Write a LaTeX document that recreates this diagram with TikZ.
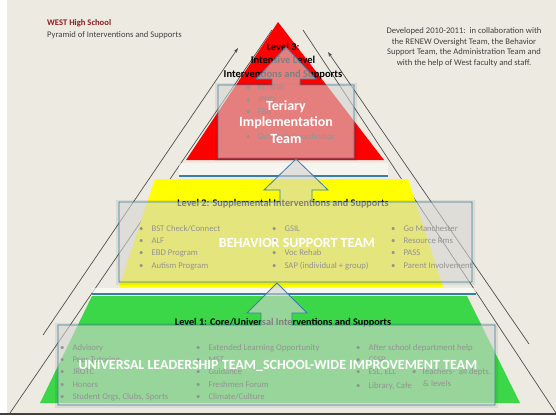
\documentclass[tikz,border=0pt]{standalone}
\usepackage{fontspec}
\setmainfont{Carlito}
\usetikzlibrary{arrows.meta}
\definecolor{paper}{RGB}{237,235,225}
\definecolor{lvlred}{RGB}{255,0,0}
\definecolor{lvlyellow}{RGB}{255,255,0}
\definecolor{lvlgreen}{RGB}{60,215,72}
\definecolor{teamblue}{RGB}{58,126,164}
\definecolor{veil}{RGB}{212,212,210}
\definecolor{ink}{RGB}{64,64,64}
\definecolor{bullink}{RGB}{50,50,50}
\definecolor{schoolred}{RGB}{139,30,30}
\definecolor{guide}{RGB}{80,80,80}
\tikzset{
  teambox/.style={draw=teamblue, line width=0.8pt, fill=veil, fill opacity=0.6, line join=miter},
  teamshadow/.style={fill=black, fill opacity=0.07, even odd rule},
  guideline/.style={draw=guide, line width=0.7pt},
  guidearrow/.style={guideline, -{Stealth[length=5pt,width=3.5pt]}},
  lvltitle/.style={font=\bfseries\fontsize{10.2}{11}\selectfont, text=black, inner sep=0pt},
  bul/.style={font=\fontsize{8.7}{9}\selectfont, text=bullink, inner sep=0pt, anchor=west},
  teamlabel/.style={font=\bfseries\fontsize{14}{16}\selectfont, text=white, inner sep=0pt},
  note/.style={font=\fontsize{8.6}{10.5}\selectfont, text=ink, inner sep=0pt},
}
\begin{document}
\begin{tikzpicture}[x=1pt,y=-1pt]
% page
\useasboundingbox (0,0) rectangle (556,415);
\fill[paper] (0,0) rectangle (556,415);
\fill[white] (0,0) rectangle (7,415);
\fill[black!75] (0,413) rectangle (556,415);

% header texts
\node[anchor=west, inner sep=0pt, font=\bfseries\fontsize{8.6}{9}\selectfont, text=schoolred] (school) at (47,23) {WEST High School};
\node[anchor=west, note] (subtitle) at (47,35) {Pyramid of Interventions and Supports};
\node[note, align=center] (credits) at (464,47) {Developed 2010-2011:\ \ in collaboration with\\the RENEW Oversight Team, the Behavior\\Support Team, the Administration Team and\\with the help of West faculty and staff.};

% outer guide lines and arrows
\coordinate (gl0) at (10,413);
\coordinate (gl1) at (272,30);
\coordinate (gr0) at (556,413);
\coordinate (gr1) at (303,30);
\coordinate (al0) at (43,335);
\coordinate (al1) at (238,48);
\coordinate (ar0) at (529,344);
\coordinate (ar1) at (328,52);
\draw[guideline] (gl0) -- (gl1);
\draw[guideline] (gr0) -- (gr1);
\draw[guidearrow] (al0) -- (al1);
\draw[guidearrow] (ar0) -- (ar1);

% pyramid levels
\fill[lvlred] (278,22) -- (384,160) -- (186,160) -- cycle;
\fill[white, fill opacity=0.45] (179,163) rectangle (388,176);
\draw[teamblue, line width=1.2pt] (179,176) -- (388,176);
\fill[lvlyellow] (155,179) -- (408,179) -- (443,287) -- (119,287) -- cycle;
\fill[white, fill opacity=0.6] (92,288) rectangle (476,293);
\draw[teamblue, line width=1.2pt] (92,294) -- (476,294);
\fill[lvlgreen] (92,296) -- (467,296) -- (520,403) -- (40,403) -- cycle;

% level 3 contents
\node[lvltitle, align=center, font=\bfseries\fontsize{10.5}{13.5}\selectfont] (l3title) at (283,61) {Level 3:\\Intensive Level\\Interventions and Supports};
\foreach \y/\t in {88/RENEW,100/JPPO,112/FBA,124/{},137/{Outreach Coordinator}}
  \node[bul] at (246,\y) {\textbullet\hspace{7pt}\t};

% level 2 contents
\node[lvltitle] (l2title) at (283,204) {Level 2: Supplemental Interventions and Supports};
\foreach \y/\a/\b/\c in {229/{BST Check/Connect}/GSIL/{Go Manchester},
                         241/ALF/{}/{Resource Rms},
                         253/{EBD Program}/{Voc Rehab}/PASS,
                         266/{Autism Program}/{SAP (individual + group)}/{Parent Involvement}}{
  \node[bul] at (139,\y) {\textbullet\hspace{8pt}\a};
  \node[bul] at (272,\y) {\textbullet\hspace{8pt}\b};
  \node[bul] at (391,\y) {\textbullet\hspace{8pt}\c};
}

% level 1 contents
\node[lvltitle] (l1title) at (283,323) {Level 1: Core/Universal Interventions and Supports};
\foreach \y/\a/\b in {348/Advisory/{Extended Learning Opportunity},
                      360/{Peer Tutoring}/MST,
                      372/JROTC/Guidance,
                      385/Honors/{Freshmen Forum},
                      397/{Student Orgs, Clubs, Sports}/{Climate/Culture}}{
  \node[bul] at (60,\y) {\textbullet\hspace{8pt}\a};
  \node[bul] at (196,\y) {\textbullet\hspace{8pt}\b};
}
\foreach \y/\c in {348/{After school department help},360/CSSP,372/{ESL, ELL},386/{Library, Cafe}}
  \node[bul] at (356,\y) {\textbullet\hspace{8pt}\c};
\node[bul] at (412,372) {\textbullet\hspace{5pt}Teachers-\ \ all depts.};
\node[bul] at (423,384) {\& levels};

% team call-out boxes (frame shadow, then translucent box with up arrow)
\fill[teamshadow] (215,83) rectangle (357,161) (218,85) rectangle (354,158);
\path[teambox] (218,85) -- (272,85) -- (272,79) -- (256,79) -- (286,47) -- (316,79)
  -- (300,79) -- (300,85) -- (354,85) -- (354,158) -- (218,158) -- cycle;
\fill[teamshadow] (116,200) rectangle (475,285) (119,202) rectangle (472,282);
\path[teambox] (119,202) -- (280,202) -- (280,190) -- (264,190) -- (296,159) -- (328,190)
  -- (312,190) -- (312,202) -- (472,202) -- (472,282) -- (119,282) -- cycle;
\fill[teamshadow] (55,323) rectangle (498,408) (58,325) rectangle (495,405);
\path[teambox] (58,325) -- (261,325) -- (261,313) -- (247,313) -- (277,283) -- (307,313)
  -- (292,313) -- (292,325) -- (495,325) -- (495,405) -- (58,405) -- cycle;

% team names
\node[teamlabel, align=center, font=\bfseries\fontsize{14}{16.5}\selectfont] (tertiary) at (286,122) {Teriary\\Implementation\\Team};
\node[teamlabel] (behavior) at (297,243) {BEHAVIOR SUPPORT TEAM};
\node[teamlabel] (universal) at (278,366) {UNIVERSAL LEADERSHIP TEAM\_SCHOOL-WIDE IMPROVEMENT TEAM};
\end{tikzpicture}
\end{document}
